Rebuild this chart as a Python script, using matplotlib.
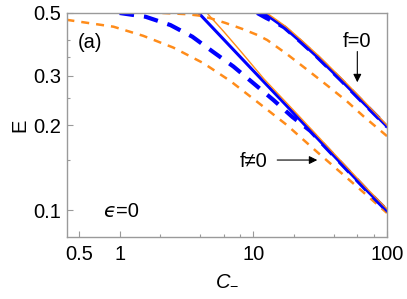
import matplotlib
matplotlib.use('Agg')
import matplotlib.pyplot as plt
from matplotlib.ticker import FixedLocator, FixedFormatter, NullFormatter

plt.rcParams['font.family'] = ['Liberation Sans', 'DejaVu Sans']
plt.rcParams['mathtext.fontset'] = 'custom'
plt.rcParams['mathtext.rm'] = 'Liberation Sans'
plt.rcParams['mathtext.it'] = 'Liberation Sans:italic'

# f != 0 group (lower left)
c_lo_solid = [3.9, 6, 10, 20, 40, 70, 100]
e_lo_solid = [0.5, 0.403, 0.312, 0.221, 0.156, 0.118, 0.0995]
c_lo_thin = [4.5, 6, 8, 12, 20, 40, 70, 100]
e_lo_thin = [0.5, 0.43, 0.367, 0.292, 0.226, 0.159, 0.120, 0.101]
c_lo_dash = [1.0, 1.56, 2.4, 3.5, 5.0, 7.1, 10, 14.1, 19.6, 26.7, 40, 70, 100]
e_lo_dash = [0.5, 0.485, 0.453, 0.412, 0.364, 0.323, 0.282, 0.246, 0.214, 0.191, 0.156, 0.118, 0.0995]
c_lo_odash = [0.4, 0.9, 1.5, 2.52, 4.23, 6.73, 10.7, 17.9, 29.9, 53.2, 100]
e_lo_odash = [0.473, 0.447, 0.415, 0.377, 0.332, 0.287, 0.242, 0.200, 0.161, 0.127, 0.0977]

# f = 0 group (upper right)
c_hi_solid = [11.9, 14, 17, 22, 30, 45, 65, 100]
e_hi_solid = [0.5, 0.475, 0.445, 0.40, 0.35, 0.29, 0.243, 0.198]
c_hi_thin = [12.6, 14.7, 17.8, 23, 31.3, 46.8, 67.5, 100]
e_hi_thin = [0.5, 0.475, 0.445, 0.40, 0.35, 0.29, 0.243, 0.2]
c_hi_dash = [10.7, 12.5, 15, 17, 22, 30, 45, 65, 100]
e_hi_dash = [0.5, 0.48, 0.46, 0.445, 0.40, 0.35, 0.29, 0.243, 0.198]
c_hi_odash = [2.09, 3.21, 4.01, 4.77, 6.18, 8.28, 10.7, 12.7, 17.9, 25.2, 35.6, 50.2, 66.8, 100]
e_hi_odash = [0.5, 0.495, 0.489, 0.479, 0.461, 0.439, 0.418, 0.401, 0.357, 0.315, 0.277, 0.243, 0.215, 0.183]

x_major = [0.5, 1, 10, 100]
x_major_labels = ['0.5', '1', '10', '100']
x_minor = [2, 4, 6, 8, 20, 40, 60, 80]
y_major = [0.1, 0.2, 0.3, 0.5]
y_major_labels = ['0.1', '0.2', '0.3', '0.5']
y_minor = [0.15, 0.25, 0.35, 0.4]

blue = '#0000ff'
orange = '#ff8c1a'
gray = '#9a9a9a'
fs = 14.5

fig = plt.figure(figsize=(4.07, 2.99), dpi=100)
ax = fig.add_axes([0.1646, 0.2074, 0.7862, 0.7492])

def group(c_solid, e_solid, c_thin, e_thin, c_dash, e_dash, c_od, e_od):
  ax.plot(c_od, e_od, color=orange, lw=1.8, ls=(0, (3.2, 2.8)))
  ax.plot(c_dash, e_dash, color=blue, lw=3.0, ls=(0, (3.5, 2.4)))
  ax.plot(c_solid, e_solid, color=blue, lw=2.2)
  ax.plot(c_thin, e_thin, color=orange, lw=1.0)

group(c_lo_solid, e_lo_solid, c_lo_thin, e_lo_thin, c_lo_dash, e_lo_dash, c_lo_odash, e_lo_odash)
group(c_hi_solid, e_hi_solid, c_hi_thin, e_hi_thin, c_hi_dash, e_hi_dash, c_hi_odash, e_hi_odash)

ax.set_xscale('log')
ax.set_yscale('log')
ax.set_xlim(0.404, 100)
ax.set_ylim(0.0803, 0.5)

ax.xaxis.set_major_locator(FixedLocator(x_major))
ax.xaxis.set_major_formatter(FixedFormatter(x_major_labels))
ax.xaxis.set_minor_locator(FixedLocator(x_minor))
ax.xaxis.set_minor_formatter(NullFormatter())
ax.yaxis.set_major_locator(FixedLocator(y_major))
ax.yaxis.set_major_formatter(FixedFormatter(y_major_labels))
ax.yaxis.set_minor_locator(FixedLocator(y_minor))
ax.yaxis.set_minor_formatter(NullFormatter())

for s in ax.spines.values():
  s.set_color(gray)
  s.set_linewidth(1.0)
ax.tick_params(which='both', direction='in', color=gray, width=0.8, labelsize=fs, top=False, right=False)
ax.tick_params(which='major', length=4)
ax.tick_params(which='minor', length=2.5)
ax.tick_params(axis='x', which='major', pad=6)
ax.tick_params(axis='y', which='major', pad=4)

ax.set_xlabel('$C_{-}$', fontsize=fs, labelpad=4)
ax.set_ylabel('E', fontsize=fs, labelpad=3)

ax.text(0.072, 0.866, '(a)', transform=ax.transAxes, fontsize=fs, ha='center', va='center')
ax.text(0.152, 0.113, '\u03f5', transform=ax.transAxes, fontsize=fs, ha='right', va='center',
        family='DejaVu Sans', style='italic')
ax.text(0.152, 0.113, '=0', transform=ax.transAxes, fontsize=fs, ha='left', va='center')

ax.text(60, 0.395, 'f=0', fontsize=fs, ha='center', va='center')
ax.annotate('', xy=(60, 0.284), xytext=(60, 0.365),
            arrowprops=dict(arrowstyle='-|>', color='k', lw=0.8, mutation_scale=12, shrinkA=0, shrinkB=0))
ax.text(10.0, 0.1485, 'f\u22600', fontsize=fs, ha='center', va='center')
ax.annotate('', xy=(30.1, 0.1505), xytext=(15.1, 0.1505),
            arrowprops=dict(arrowstyle='-|>', color='k', lw=0.8, mutation_scale=12, shrinkA=0, shrinkB=0))

fig.savefig('out.png', dpi=100)
